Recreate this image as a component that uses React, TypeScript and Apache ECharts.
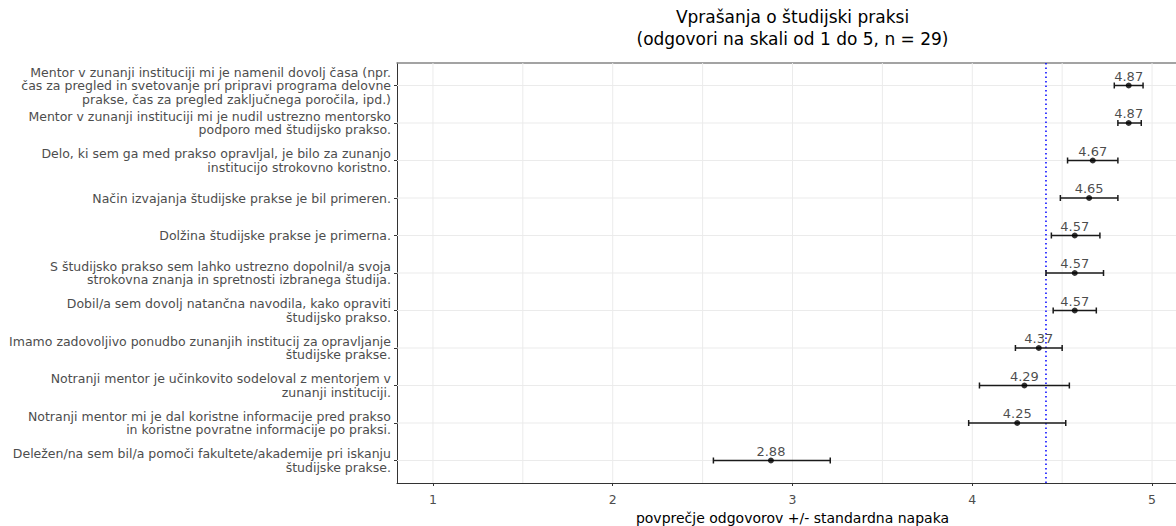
import React, { useEffect, useRef } from "react";
import * as echarts from "echarts";

const TITLE_LINES = ["Vprašanja o študijski praksi", "(odgovori na skali od 1 do 5, n = 29)"];
const X_NAME = "povprečje odgovorov +/- standardna napaka";

const QUESTIONS = [
  "Mentor v zunanji instituciji mi je namenil dovolj časa (npr.\nčas za pregled in svetovanje pri pripravi programa delovne\nprakse, čas za pregled zaključnega poročila, ipd.)",
  "Mentor v zunanji instituciji mi je nudil ustrezno mentorsko\npodporo med študijsko prakso.",
  "Delo, ki sem ga med prakso opravljal, je bilo za zunanjo\ninstitucijo strokovno koristno.",
  "Način izvajanja študijske prakse je bil primeren.",
  "Dolžina študijske prakse je primerna.",
  "S študijsko prakso sem lahko ustrezno dopolnil/a svoja\nstrokovna znanja in spretnosti izbranega študija.",
  "Dobil/a sem dovolj natančna navodila, kako opraviti\nštudijsko prakso.",
  "Imamo zadovoljivo ponudbo zunanjih institucij za opravljanje\nštudijske prakse.",
  "Notranji mentor je učinkovito sodeloval z mentorjem v\nzunanji instituciji.",
  "Notranji mentor mi je dal koristne informacije pred prakso\nin koristne povratne informacije po praksi.",
  "Deležen/na sem bil/a pomoči fakultete/akademije pri iskanju\nštudijske prakse.",
];

const MEANS = [4.87, 4.87, 4.67, 4.65, 4.57, 4.57, 4.57, 4.37, 4.29, 4.25, 2.88];
const LOWER = [4.79, 4.81, 4.53, 4.49, 4.44, 4.41, 4.45, 4.24, 4.04, 3.98, 2.56];
const UPPER = [4.95, 4.94, 4.81, 4.81, 4.71, 4.73, 4.69, 4.50, 4.54, 4.52, 3.21];

const OVERALL_MEAN = 4.41;
const X_TICKS = [1, 2, 3, 4, 5];
const X_GRID = [1, 1.5, 2, 2.5, 3, 3.5, 4, 4.5, 5];
const X_MIN = 0.8;
const X_MAX = 5.2;

const FONT = "'DejaVu Sans', 'Liberation Sans', sans-serif";

export default function App() {
  const ref = useRef<HTMLDivElement>(null);

  useEffect(() => {
    document.body.style.margin = "0";
    if (!ref.current) return;
    const chart = echarts.init(ref.current, undefined, { renderer: "svg" });
    const rows = QUESTIONS.map((_, i) => i);
    const nRows = QUESTIONS.length;

    const option: any = {
      animation: false,
      backgroundColor: "#ffffff",
      textStyle: { fontFamily: FONT },
      graphic: [
        {
          type: "text",
          x: 792.5,
          y: 6,
          style: {
            text: TITLE_LINES.join("\n"),
            fontFamily: FONT,
            fontSize: 17,
            lineHeight: 22,
            fill: "#000000",
            textAlign: "center",
            textVerticalAlign: "top",
          },
        },
      ],
      grid: {
        left: 397,
        top: 63,
        width: 791,
        height: 420,
        containLabel: false,
        outerBoundsMode: "none",
      },
      xAxis: [
        {
          type: "value",
          min: X_MIN,
          max: X_MAX,
          position: "bottom",
          axisLine: { show: true, onZero: false, lineStyle: { color: "#333333", width: 1 } },
          axisTick: { show: true, customValues: X_TICKS, length: 3, lineStyle: { color: "#333333" } },
          axisLabel: {
            show: true,
            customValues: X_TICKS,
            margin: 10,
            fontSize: 12.5,
            color: "#4d4d4d",
            fontFamily: FONT,
            formatter: (v: number) => String(v),
          },
          splitLine: { show: false },
          minorSplitLine: { show: false },
          name: X_NAME,
          nameLocation: "middle",
          nameGap: 28,
          nameTextStyle: { fontSize: 14, color: "#000000", fontFamily: FONT },
        },
        {
          type: "value",
          min: X_MIN,
          max: X_MAX,
          position: "top",
          axisLine: { show: true, onZero: false, lineStyle: { color: "#858585", width: 1.5 } },
          axisTick: { show: false },
          axisLabel: { show: false },
          splitLine: { show: false },
        },
      ],
      yAxis: {
        type: "value",
        inverse: true,
        min: -0.6,
        max: nRows - 1 + 0.6,
        axisLine: { show: true, onZero: false, lineStyle: { color: "#333333", width: 1 } },
        axisTick: { show: true, customValues: rows, length: 3, lineStyle: { color: "#333333" } },
        axisLabel: {
          show: true,
          customValues: rows,
          margin: 6,
          fontSize: 12.5,
          lineHeight: 13.5,
          color: "#4d4d4d",
          fontFamily: FONT,
          formatter: (v: number) => QUESTIONS[Math.round(v)] ?? "",
        },
        splitLine: { show: false },
      },
      series: [
        {
          type: "custom",
          name: "hgrid",
          z: 1,
          silent: true,
          data: rows.map((i) => [1, i]),
          encode: { x: 0, y: 1 },
          renderItem: (params: any, api: any) => {
            const cs = params.coordSys;
            const y = api.coord([api.value(0), api.value(1)])[1];
            return {
              type: "line",
              shape: { x1: cs.x, y1: y, x2: cs.x + cs.width, y2: y },
              style: { stroke: "#ebebeb", lineWidth: 1 },
            };
          },
        },
        {
          type: "custom",
          name: "vgrid",
          z: 1,
          silent: true,
          data: X_GRID.map((v) => [v, 0]),
          encode: { x: 0, y: 1 },
          renderItem: (params: any, api: any) => {
            const cs = params.coordSys;
            const x = api.coord([api.value(0), api.value(1)])[0];
            return {
              type: "line",
              shape: { x1: x, y1: cs.y, x2: x, y2: cs.y + cs.height },
              style: { stroke: "#ebebeb", lineWidth: 1 },
            };
          },
        },
        {
          type: "custom",
          name: "mean",
          z: 3,
          silent: true,
          data: [[OVERALL_MEAN, 0]],
          encode: { x: 0, y: 1 },
          renderItem: (params: any, api: any) => {
            const cs = params.coordSys;
            const x = api.coord([api.value(0), api.value(1)])[0];
            return {
              type: "line",
              shape: { x1: x, y1: cs.y, x2: x, y2: cs.y + cs.height },
              style: { stroke: "#0000ff", lineWidth: 1.5, lineDash: [1.5, 3], lineCap: "butt" },
            };
          },
        },
        {
          type: "custom",
          name: "errorbars",
          z: 4,
          silent: true,
          data: rows.map((i) => [LOWER[i], UPPER[i], i]),
          encode: { x: [0, 1], y: 2 },
          renderItem: (params: any, api: any) => {
            const lo = api.coord([api.value(0), api.value(2)]);
            const hi = api.coord([api.value(1), api.value(2)]);
            const cap = 3;
            const style = { stroke: "#1a1a1a", lineWidth: 1.5 };
            return {
              type: "group",
              children: [
                { type: "line", shape: { x1: lo[0], y1: lo[1], x2: hi[0], y2: hi[1] }, style },
                { type: "line", shape: { x1: lo[0], y1: lo[1] - cap, x2: lo[0], y2: lo[1] + cap }, style },
                { type: "line", shape: { x1: hi[0], y1: hi[1] - cap, x2: hi[0], y2: hi[1] + cap }, style },
              ],
            };
          },
        },
        {
          type: "scatter",
          name: "means",
          z: 5,
          symbol: "circle",
          symbolSize: 6,
          itemStyle: { color: "#000000" },
          data: rows.map((i) => [MEANS[i], i]),
          label: {
            show: true,
            position: "top",
            distance: 0,
            fontSize: 13,
            fontFamily: FONT,
            color: "#1a1a1a",
            formatter: (p: any) => MEANS[p.dataIndex].toFixed(2),
          },
        },
      ],
    };

    chart.setOption(option);
    return () => chart.dispose();
  }, []);

  return <div ref={ref} style={{ width: 1176, height: 526 }} />;
}
